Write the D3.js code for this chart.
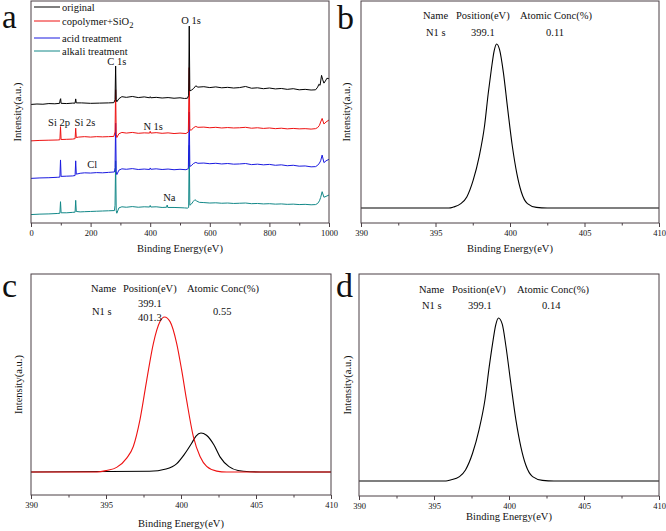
<!DOCTYPE html>
<html><head><meta charset="utf-8">
<script src="https://cdn.jsdelivr.net/npm/d3@7"></script>
<style>
body{margin:0;background:#fff}
text{font-family:"Liberation Serif","Times New Roman",serif;fill:#111}
</style>
</head><body>
<svg id="chart" width="666" height="531"></svg>
<script>
// ---------- DATA ----------
// Panel a: XPS survey spectra [binding energy (eV), intensity (a.u., stacked)]
const original = [[0,53.4],[20,53.6],[40,53.5],[60,53.8],[80,53.7],[96,53.9],[98,55.5],[99.5,56.0],[101,53.9],[120,53.8],[140,54.0],[148,54.0],[150,55.9],[152,54.1],[170,54.1],[200,53.9],[230,54.0],[260,54.1],[278,54.2],[282,55.5],[284,70.7],[286,55.5],[288,54.6],[295,56.0],[305,56.9],[320,56.6],[340,57.0],[360,56.5],[380,56.8],[398,56.4],[400,56.9],[402,56.4],[420,56.6],[440,56.3],[460,56.5],[480,56.2],[500,56.4],[515,56.1],[525,56.2],[529,57.5],[531,88.7],[533,59.5],[538,59.8],[545,60.5],[553,61.8],[560,61.2],[580,61.4],[600,61.0],[620,61.3],[640,60.9],[660,61.1],[680,60.8],[700,61.0],[720,61.5],[740,60.7],[760,60.9],[780,60.5],[800,60.8],[820,60.4],[840,60.6],[860,60.2],[880,60.5],[900,60.0],[920,60.2],[940,59.9],[955,60.0],[962,61.2],[966,62.5],[970,62.0],[975,66.5],[979,64.5],[983,63.0],[988,64.0],[993,65.2],[1000,65.0]];
const copolymer = [[0,37.0],[30,37.2],[60,37.3],[90,37.4],[97,37.5],[99,43.4],[101,37.6],[120,37.7],[140,37.8],[148,38.0],[150,42.7],[152,38.5],[160,38.7],[180,38.9],[200,38.7],[220,38.9],[240,38.8],[260,38.9],[278,39.0],[282,41],[284,60],[286,40],[288,38.5],[295,40.2],[305,40.8],[320,40.5],[340,40.8],[360,40.4],[380,40.6],[398,40.5],[400,41.3],[402,40.5],[420,40.7],[440,40.4],[460,40.6],[480,40.3],[500,40.5],[520,40.3],[528,41.0],[531,70],[533,42.0],[538,41.8],[545,42.9],[553,43.5],[560,43.1],[580,43.2],[600,42.9],[620,43.1],[640,42.8],[660,43.0],[680,42.8],[700,42.9],[720,43.1],[740,42.7],[760,42.9],[780,42.6],[800,42.8],[820,42.5],[840,42.7],[860,42.4],[880,42.6],[900,42.4],[920,42.5],[940,42.3],[955,42.5],[962,43.0],[968,44.0],[972,45.5],[977,47.1],[983,44.6],[990,45.5],[1000,46.4]];
const acid = [[0,20.1],[30,20.3],[60,20.4],[90,20.6],[97,20.7],[99,28.4],[101,21.0],[120,21.1],[140,21.2],[148,21.4],[150,28.0],[152,22.0],[165,22.4],[180,22.6],[200,22.5],[220,22.7],[240,22.6],[260,22.8],[280,23.0],[282,25],[284,45],[286,23.0],[288,21.8],[295,23.8],[305,24.4],[320,24.2],[340,24.5],[360,24.1],[380,24.3],[398,24.1],[400,24.8],[402,24.2],[420,24.4],[440,24.1],[460,24.3],[480,24.0],[500,24.2],[520,24.0],[528,24.5],[531,50],[533,25.5],[538,25.8],[545,26.8],[553,27.3],[560,26.9],[580,27.0],[600,26.7],[620,26.9],[640,26.6],[660,26.8],[680,26.5],[700,26.6],[720,26.8],[740,26.3],[760,26.5],[780,26.2],[800,26.4],[820,26.0],[840,26.2],[860,25.8],[880,26.0],[900,25.6],[920,25.7],[940,25.3],[955,25.4],[962,26.0],[968,27.0],[972,28.0],[977,30.6],[983,27.2],[990,28.0],[1000,28.7]];
const alkali = [[0,3.8],[30,4.0],[60,4.1],[90,4.3],[97,4.4],[99,9.6],[101,4.6],[120,4.6],[140,4.8],[148,4.9],[150,10.2],[152,5.2],[165,5.0],[180,5.1],[200,5.2],[220,5.3],[240,5.4],[260,5.5],[280,5.6],[282,8],[284,28],[286,5.5],[288,4.4],[295,6.8],[305,7.3],[320,7.1],[340,7.4],[360,7.1],[380,7.3],[398,7.2],[400,7.9],[402,7.2],[420,7.3],[440,7.0],[455,7.1],[457,8.1],[459,7.0],[480,7.0],[500,6.9],[515,6.8],[525,6.7],[529,7.0],[531,35],[533,8.0],[538,8.5],[545,9.8],[550,10.5],[556,9.9],[565,9.3],[580,9.2],[600,9.0],[620,9.1],[640,8.9],[660,9.0],[680,8.8],[700,8.9],[720,9.0],[740,8.7],[760,8.8],[780,8.6],[800,8.7],[820,8.5],[840,8.6],[860,8.4],[880,8.5],[900,8.3],[920,8.4],[940,8.2],[955,8.3],[962,8.8],[968,10.0],[972,11.5],[977,14.1],[983,11.6],[990,12.0],[1000,12.6]];
const surveyNames = ["original","copolymer+SiO2","acid treatment","alkali treatment"];
const surveyTicks = [0,200,400,600,800,1000];
const surveyMinor = [100,300,500,700,900];
// label text and the binding energy where it is centred
const surveyPeaks = [["O 1s",537],["C 1s",288],["Si 2p",94],["Si 2s",181],["N 1s",410],["Cl",205],["Na",464]];

// Panels b-d: N1s high-resolution fits [binding energy (eV), intensity (a.u.)]
const n1sB = [[390,0],[395.9,0],[396.2,6],[396.7,27],[397.1,68],[397.53,170],[397.93,314],[398.29,500],[398.54,700],[398.74,840],[398.94,960],[399.1,1000],[399.3,965],[399.55,830],[399.85,600],[400.16,375],[400.46,210],[400.76,98],[401.17,27],[401.77,4],[402.5,0],[410,0]];
const n1sC1 = [[390,0],[394.4,0],[395.04,10],[395.71,30],[396.38,90],[396.82,165],[397.27,340],[397.71,590],[398.16,830],[398.6,970],[398.9,1000],[399.27,970],[399.71,830],[400.04,660],[400.38,460],[400.82,230],[401.27,100],[401.71,36],[402.38,6],[403.04,0],[410,0]];
const n1sC2 = [[390,0],[397.9,5],[399.0,20],[399.7,53],[400.2,111],[400.7,184],[401.0,232],[401.33,252],[401.7,237],[402.2,174],[402.6,98],[403.2,35],[403.8,10],[404.6,2],[405.7,0],[410,0]];
const n1sD = [[390,0],[395.8,0],[396.1,6],[396.7,27],[397.1,68],[397.57,170],[398.0,314],[398.4,500],[398.68,700],[398.9,840],[399.12,960],[399.3,1000],[399.55,962],[399.79,830],[400.12,600],[400.46,375],[400.79,210],[401.12,98],[401.57,27],[402.23,4],[403,0],[410,0]];
const hrTicks = [390,395,400,405,410];
const hrMinor = [392.5,397.5,402.5,407.5];
const tableHead = ["Name","Position(eV)","Atomic Conc(%)"];
const tableB = ["N1 s","399.1","0.11"];
const tableC = ["N1 s","399.1","401.3","0.55"];
const tableD = ["N1 s","399.1","0.14"];

// ---------- DRAW ----------
const svg = d3.select("#chart");
const FRAME = "#4a3f44";
const FS = 10.5;

function frame(p, x, major, minor, titleY, ylabX){
  const g = svg.append("g");
  g.append("rect").attr("x",p.x0).attr("y",p.y0).attr("width",p.x1-p.x0).attr("height",p.y1-p.y0)
   .attr("fill","none").attr("stroke",FRAME).attr("stroke-width",1);
  const ax = g.append("g").attr("transform",`translate(0,${p.y1})`)
   .call(d3.axisBottom(x).tickValues(major).tickSize(4).tickSizeOuter(0).tickPadding(3).tickFormat(d3.format("d")));
  ax.attr("font-family",null);
  ax.select(".domain").remove();
  ax.selectAll("line").attr("stroke",FRAME);
  ax.selectAll("text").attr("font-size",8.5).attr("fill","#222").attr("dy","0.71em");
  const mx = g.append("g").attr("transform",`translate(0,${p.y1})`)
   .call(d3.axisBottom(x).tickValues(minor).tickSize(2.5).tickSizeOuter(0).tickFormat(""));
  mx.select(".domain").remove();
  mx.selectAll("line").attr("stroke",FRAME);
  g.append("text").attr("x",(p.x0+p.x1)/2).attr("y",titleY).attr("text-anchor","middle")
   .attr("font-size",FS).text("Binding Energy(eV)");
  g.append("text").attr("transform",`translate(${ylabX},${(p.y0+p.y1)/2}) rotate(-90)`)
   .attr("text-anchor","middle").attr("font-size",FS).text("Intensity(a.u.)");
}
function letter(t,x,y,fs){
  svg.append("text").attr("x",x).attr("y",y).attr("font-size",fs||34).attr("fill","#111").text(t);
}

// Panel a
const pa = {x0:31,x1:329,y0:1,y1:223};
const xa = d3.scaleLinear().domain([0,1000]).range([pa.x0,pa.x1]);
const ya = d3.scaleLinear().domain([0,100]).range([pa.y1,pa.y0]);
const colors = ["#000000","#ee1111","#1a1ae0","#128888"];
const series = [original,copolymer,acid,alkali];
const lineA = d3.line().x(d=>xa(d[0])).y(d=>ya(d[1]));
// draw bottom series first so upper spectra sit on top
for(let i=series.length-1;i>=0;i--){
  svg.append("path").datum(series[i]).attr("d",lineA).attr("fill","none")
    .attr("stroke",colors[i]).attr("stroke-width",1).attr("stroke-linejoin","round");
}
frame(pa,xa,surveyTicks,surveyMinor,252,21);
// legend
const legY = [7,21,38,51];
surveyNames.forEach((n,i)=>{
  svg.append("line").attr("x1",34).attr("x2",60).attr("y1",legY[i]).attr("y2",legY[i]).attr("stroke",colors[i]).attr("stroke-width",1);
  const t = svg.append("text").attr("x",62).attr("y",legY[i]+3.5).attr("font-size",FS);
  if(n.endsWith("SiO2")){
    t.append("tspan").text("copolymer+SiO");
    t.append("tspan").attr("dy",3).attr("font-size",8.5).text("2");
  } else t.text(n);
});
// peak annotations
const annY = {"O 1s":24,"C 1s":65,"Si 2p":126,"Si 2s":126,"N 1s":130,"Cl":168,"Na":201};
surveyPeaks.forEach(([n,e])=>{
  svg.append("text").attr("x",xa(e)).attr("y",annY[n]).attr("text-anchor","middle").attr("font-size",FS).text(n);
});
letter("a",2,28,33);

// Generic high-res panel
function hrPanel(p, dom, curves, cols, table, tablePos, titleY, ylabX){
  const x = d3.scaleLinear().domain([390,410]).range([p.x0,p.x1]);
  const y = d3.scaleLinear().domain(dom).range([p.y1,p.y0]);
  const ln = d3.line().x(d=>x(d[0])).y(d=>y(d[1])).curve(d3.curveMonotoneX);
  curves.forEach((c,i)=>{
    svg.append("path").datum(c).attr("d",ln).attr("fill","none").attr("stroke",cols[i]).attr("stroke-width",1.1);
  });
  frame(p,x,hrTicks,hrMinor,titleY,ylabX);
  tableHead.forEach((h,i)=>{
    svg.append("text").attr("x",tablePos.head[i]).attr("y",tablePos.hy).attr("font-size",FS).text(h);
  });
  table.forEach((v,i)=>{
    const pos = tablePos.rows[i];
    svg.append("text").attr("x",pos[0]).attr("y",pos[1]).attr("font-size",FS).text(v);
  });
}

// Panel b
hrPanel({x0:361,x1:659,y0:1,y1:223},[-91,1262],[n1sB],["#000"],tableB,
  {head:[423,456,520],hy:19,rows:[[426,36],[471,36],[546,36]]},252,350);
letter("b",337,29);

// Panel c
hrPanel({x0:31,x1:331,y0:274,y1:495},[-148,1277],[n1sC2,n1sC1],["#000","#ee1111"],tableC,
  {head:[91,123,187],hy:292,rows:[[92,315],[138,307],[138,321],[213,315]]},527,22);
letter("c",2,297);

// Panel d
hrPanel({x0:359,x1:659,y0:274,y1:496},[-92,1270],[n1sD],["#000"],tableD,
  {head:[419,452,517],hy:293,rows:[[422,309],[468,309],[542,309]]},520,351);
letter("d",336,297);
</script>
</body></html>
